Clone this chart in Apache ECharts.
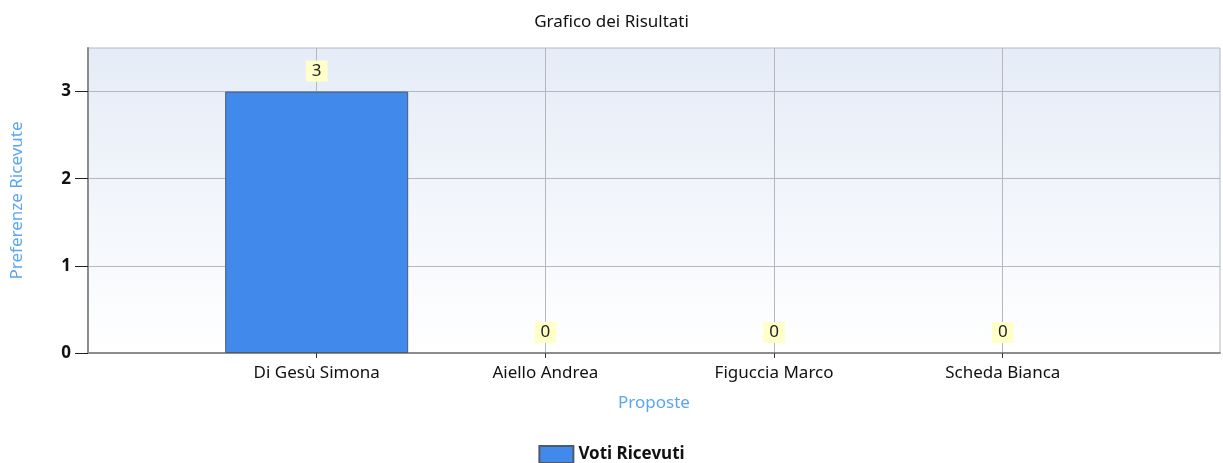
<!DOCTYPE html>
<html>
<head>
<meta charset="utf-8">
<script src="https://cdn.jsdelivr.net/npm/echarts@6/dist/echarts.min.js"></script>
<style>
  html, body { margin: 0; padding: 0; background: #fff; }
  #main { width: 1223px; height: 463px; }
</style>
</head>
<body>
<div id="main"></div>
<script>
// data
const categories = ['Di Gesù Simona', 'Aiello Andrea', 'Figuccia Marco', 'Scheda Bianca']
const votes = [3, 0, 0, 0]
const yTicks = [0, 1, 2, 3]

const font = 'Noto Sans'
const chart = echarts.init(document.getElementById('main'))

// bars sit on x = 1..4 of a value axis, like the original chart
// (no outline on empty bars, otherwise a dark line shows on the axis)
const barData = categories.map((name, i) => ({
  value: [i + 1, votes[i]],
  itemStyle: votes[i] === 0 ? { borderWidth: 0 } : undefined
}))

const option = {
  animation: false,
  title: {
    text: 'Grafico dei Risultati',
    left: 'center',
    top: 9,
    textStyle: { fontFamily: font, fontSize: 17, fontWeight: 'normal', color: '#111' }
  },
  legend: {
    bottom: -6,
    left: 'center',
    itemWidth: 34,
    itemHeight: 17,
    itemGap: 8,
    icon: 'rect',
    textStyle: { fontFamily: font, fontSize: 17, fontWeight: 'bold', color: '#111' },
    data: ['Voti Ricevuti']
  },
  grid: {
    left: 88,
    right: 3,
    top: 48,
    bottom: 110,
    show: true,
    borderColor: '#b4b8bf',
    borderWidth: 1,
    backgroundColor: new echarts.graphic.LinearGradient(0, 0, 0, 1, [
      { offset: 0, color: '#e5ecf7' },
      { offset: 1, color: '#ffffff' }
    ])
  },
  xAxis: {
    type: 'value',
    min: 0,
    max: 4.95,
    interval: 1,
    name: 'Proposte',
    nameLocation: 'middle',
    nameGap: 42,
    nameTextStyle: { fontFamily: font, fontSize: 17, color: '#5aa6f5' },
    axisLine: { show: true, lineStyle: { color: '#8c8c8c', width: 2 } },
    axisTick: { show: true, customValues: [1, 2, 3, 4], length: 5, lineStyle: { color: '#333' } },
    axisLabel: {
      customValues: [1, 2, 3, 4],
      margin: 12,
      fontFamily: font,
      fontSize: 17,
      color: '#111',
      formatter: v => categories[Math.round(v) - 1] || ''
    },
    splitLine: { show: true, lineStyle: { color: '#b4b7bd' } }
  },
  yAxis: {
    type: 'value',
    min: 0,
    max: 3.5,
    interval: 1,
    name: 'Preferenze Ricevute',
    nameLocation: 'middle',
    nameGap: 62,
    nameTextStyle: { fontFamily: font, fontSize: 17, color: '#5aa6f5' },
    axisLine: { show: true, lineStyle: { color: '#8c8c8c', width: 2 } },
    axisTick: { show: true, customValues: yTicks, length: 13, lineStyle: { color: '#222' } },
    axisLabel: {
      customValues: yTicks,
      margin: 17,
      fontFamily: font,
      fontSize: 17,
      fontWeight: 'bold',
      color: '#111'
    },
    splitLine: { show: true, lineStyle: { color: '#b4b7bd' } }
  },
  series: [
    {
      name: 'Voti Ricevuti',
      type: 'bar',
      barWidth: 183,
      data: barData,
      itemStyle: { color: '#418aec', borderColor: '#4d5a6a', borderWidth: 1 },
      label: {
        show: true,
        position: 'top',
        distance: 10,
        backgroundColor: '#ffffc8',
        padding: [2, 6],
        fontFamily: font,
        fontSize: 17,
        color: '#222',
        formatter: p => p.value[1]
      }
    }
  ]
}

chart.setOption(option)
</script>
</body>
</html>
